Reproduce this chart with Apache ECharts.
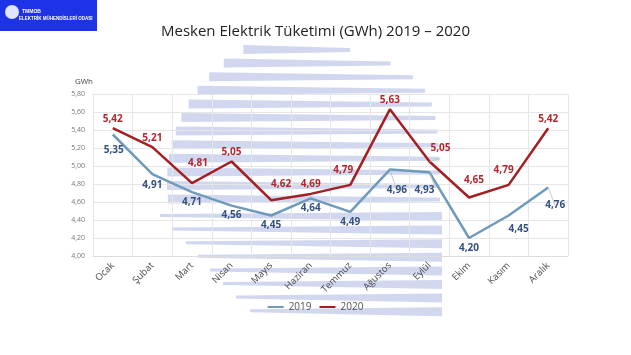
<!DOCTYPE html>
<html><head><meta charset="utf-8">
<script src="https://cdn.jsdelivr.net/npm/echarts@6/dist/echarts.min.js"></script>
<style>html,body{margin:0;padding:0;background:#fff}#c{width:631px;height:355px}</style>
</head><body><div id="c"></div>
<script>
const months = ['Ocak','Şubat','Mart','Nisan','Mayıs','Haziran','Temmuz','Ağustos','Eylül','Ekim','Kasım','Aralık'];
const values2019 = [5.35,4.91,4.71,4.56,4.45,4.64,4.49,4.96,4.93,4.20,4.45,4.76];
const values2020 = [5.42,5.21,4.81,5.05,4.62,4.69,4.79,5.63,5.05,4.65,4.79,5.42];
const yTicks = {min:4.0, max:5.8, interval:0.2};

// label placement tweaks (style only)
const off2019 = [[1,6],[0,1.5],[0,0],[0,0],[0,0],[0,0],[0,0],[7,11],[-5,8],[0,0],[10,4],[7,8]];
const off2020 = [[0,0],[0,0],[6,-11],[0,0],[10,-7],[0,-1],[-7,-6],[0,0],[11,-4],[5,-8],[-5,-6],[0,0]];
const leader2019 = [7,8,11];
const leader2020 = [8];

const chart = echarts.init(document.getElementById('c'));
const fmt = v => v.toFixed(2).replace('.', ',');

// decorative watermark (logo background)
const wm = [];
const fill = 'rgba(180,188,230,0.6)';
const cx = 321, cy = 182, r = 154;
for (let i = 0; i < 12; i++) {
  const y = 45 + 13.6 * i;
  const dy = Math.abs(y + 4 - cy);
  const left = cx - Math.sqrt(Math.max(r*r - dy*dy, 0));
  const right = 440 - 90 * Math.exp(-i * 0.6);
  wm.push({type:'polygon', z:-10, silent:true,
    shape:{points:[[left,y],[right,y+3],[right,y+7],[left,y+9]]}, style:{fill}});
}
const lowLeft = [160,172,186,198,210,223,236,250];
for (let i = 0; i < 8; i++) {
  const y = 212 + 13.6 * i;
  wm.push({type:'polygon', z:-10, silent:true,
    shape:{points:[[lowLeft[i],y+2],[442,y],[442,y+9],[lowLeft[i],y+5]]}, style:{fill}});
}

function buildData(vals, offs, leaders) {
  return vals.map((v, i) => {
    const it = {value: v, label: {offset: offs[i]}};
    if (leaders.includes(i)) it.labelLine = {show:true, lineStyle:{color:'#bbb', width:0.8}};
    return it;
  });
}

chart.setOption({
  animation:false,
  textStyle:{fontFamily:'Open Sans'},
  title:{text:'Mesken Elektrik Tüketimi (GWh) 2019 – 2020', left:'center', top:19,
    textStyle:{fontSize:15, fontWeight:'normal', color:'#222', fontFamily:'Open Sans'}},
  graphic:[
    ...wm,
    {type:'rect', shape:{x:0,y:0,width:97,height:31}, style:{fill:'#1f33e6'}},
    {type:'circle', shape:{cx:12,cy:12,r:7}, style:{fill:'#dfe6ff'}},
    {type:'text', left:22, top:9, style:{text:'TMMOB', fill:'#fff', font:'bold 5px Liberation Sans'}},
    {type:'text', left:19, top:16, style:{text:'ELEKTRİK MÜHENDİSLERİ ODASI', fill:'#fff', font:'bold 4.5px Liberation Sans'}}
  ],
  legend:{bottom:38, left:'center', itemWidth:16, itemHeight:2, itemGap:8,
    icon:'rect',
    textStyle:{fontSize:10, color:'#555'},
    data:['2019','2020']},
  grid:{left:93, right:63, top:94, bottom:99},
  xAxis:{type:'category', data:months, boundaryGap:true,
    axisLine:{lineStyle:{color:'#ddd'}}, axisTick:{show:false},
    splitLine:{show:true, lineStyle:{color:'#e6e6e6'}},
    axisLabel:{rotate:45, fontSize:9.5, color:'#4a4a4a', interval:0, margin:8}},
  yAxis:{type:'value', min:yTicks.min, max:yTicks.max, interval:yTicks.interval,
    name:'GWh', nameLocation:'end', nameGap:8,
    nameTextStyle:{fontSize:8, color:'#444', align:'right'},
    axisLine:{show:false}, axisTick:{show:false},
    splitLine:{lineStyle:{color:'#e6e6e6'}},
    axisLabel:{fontSize:7, color:'#777', formatter:v=>fmt(v), margin:8}},
  series:[
    {name:'2019', type:'line', data:buildData(values2019, off2019, leader2019),
      symbol:'circle', symbolSize:0.1, showSymbol:true,
      lineStyle:{width:2.5, color:'#6f9bbb'}, itemStyle:{color:'#6f9bbb'},
      label:{show:true, position:'bottom', distance:5, formatter:p=>fmt(p.value),
        fontSize:10, fontWeight:'bold', color:'#34507f'}},
    {name:'2020', type:'line', data:buildData(values2020, off2020, leader2020),
      symbol:'circle', symbolSize:0.1, showSymbol:true,
      lineStyle:{width:2.5, color:'#a41e22'}, itemStyle:{color:'#a41e22'},
      label:{show:true, position:'top', distance:4, formatter:p=>fmt(p.value),
        fontSize:10, fontWeight:'bold', color:'#b3262b'}}
  ]
});
</script></body></html>
